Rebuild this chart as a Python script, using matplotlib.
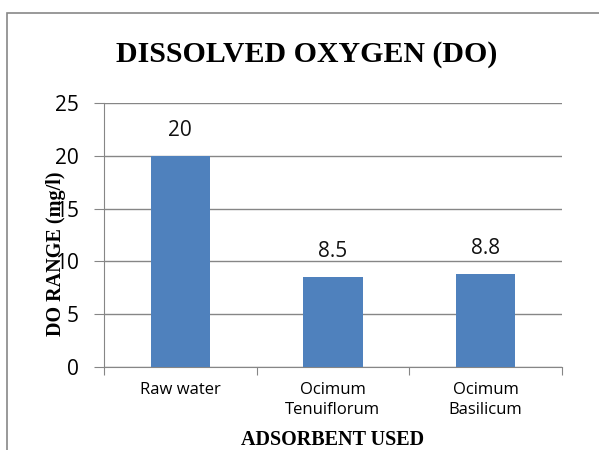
import matplotlib.pyplot as plt
import numpy as np
from matplotlib.patches import Rectangle

# DO values per adsorbent
categories = ['Raw water', 'Ocimum\nTenuiflorum', 'Ocimum\nBasilicum']
do_values = [20, 8.5, 8.8]
value_labels = ['20', '8.5', '8.8']

fig = plt.figure(figsize=(5.99, 4.5), dpi=100)
ax = fig.add_axes([0.1736, 0.1844, 0.7644, 0.5867])

x = np.arange(len(categories))
ax.bar(x, do_values, width=0.39, color='#4F81BD', zorder=3)
for xi, v, lab in zip(x, do_values, value_labels):
    ax.text(xi, v + 1.4, lab, ha='center', va='bottom', fontsize=15,
            family='Open Sans', color='#111111')

ax.set_xlim(-0.5, 2.5)
ax.set_ylim(0, 25)
ax.set_yticks([0, 5, 10, 15, 20, 25])
ax.tick_params(axis='y', labelsize=15, length=7, color='#868686', pad=11)
for t in ax.get_yticklabels():
    t.set_family('Open Sans')
ax.set_xticks([-0.5, 0.5, 1.5, 2.5])
ax.set_xticklabels([])
ax.set_xticks(x, minor=True)
ax.set_xticklabels(categories, minor=True, fontsize=12, family='Open Sans',
                   linespacing=1.35)
ax.tick_params(axis='x', which='major', length=6, color='#868686')
ax.tick_params(axis='x', which='minor', length=0, pad=11)
ax.grid(axis='y', color='#868686', linewidth=1, zorder=0)
ax.set_axisbelow(True)
for s in ['top', 'right']:
    ax.spines[s].set_visible(False)
for s in ['left', 'bottom']:
    ax.spines[s].set_color('#868686')

fig.text(0.512, 0.878, 'DISSOLVED OXYGEN (DO)', ha='center', va='center',
         fontsize=21.5, fontweight='bold', family='Liberation Serif')
fig.text(0.094, 0.436, 'DO RANGE (mg/l)', ha='center', va='center', rotation=90,
         fontsize=14.5, fontweight='bold', family='Liberation Serif')
fig.text(0.556, 0.022, 'ADSORBENT USED', ha='center', va='center',
         fontsize=14.5, fontweight='bold', family='Liberation Serif')

# chart frame
fig.patches.append(Rectangle((0.012, -0.1), 1.1, 1.071, transform=fig.transFigure,
                             fill=False, edgecolor='#888888', linewidth=1.2))

fig.savefig('out.png', dpi=100)
